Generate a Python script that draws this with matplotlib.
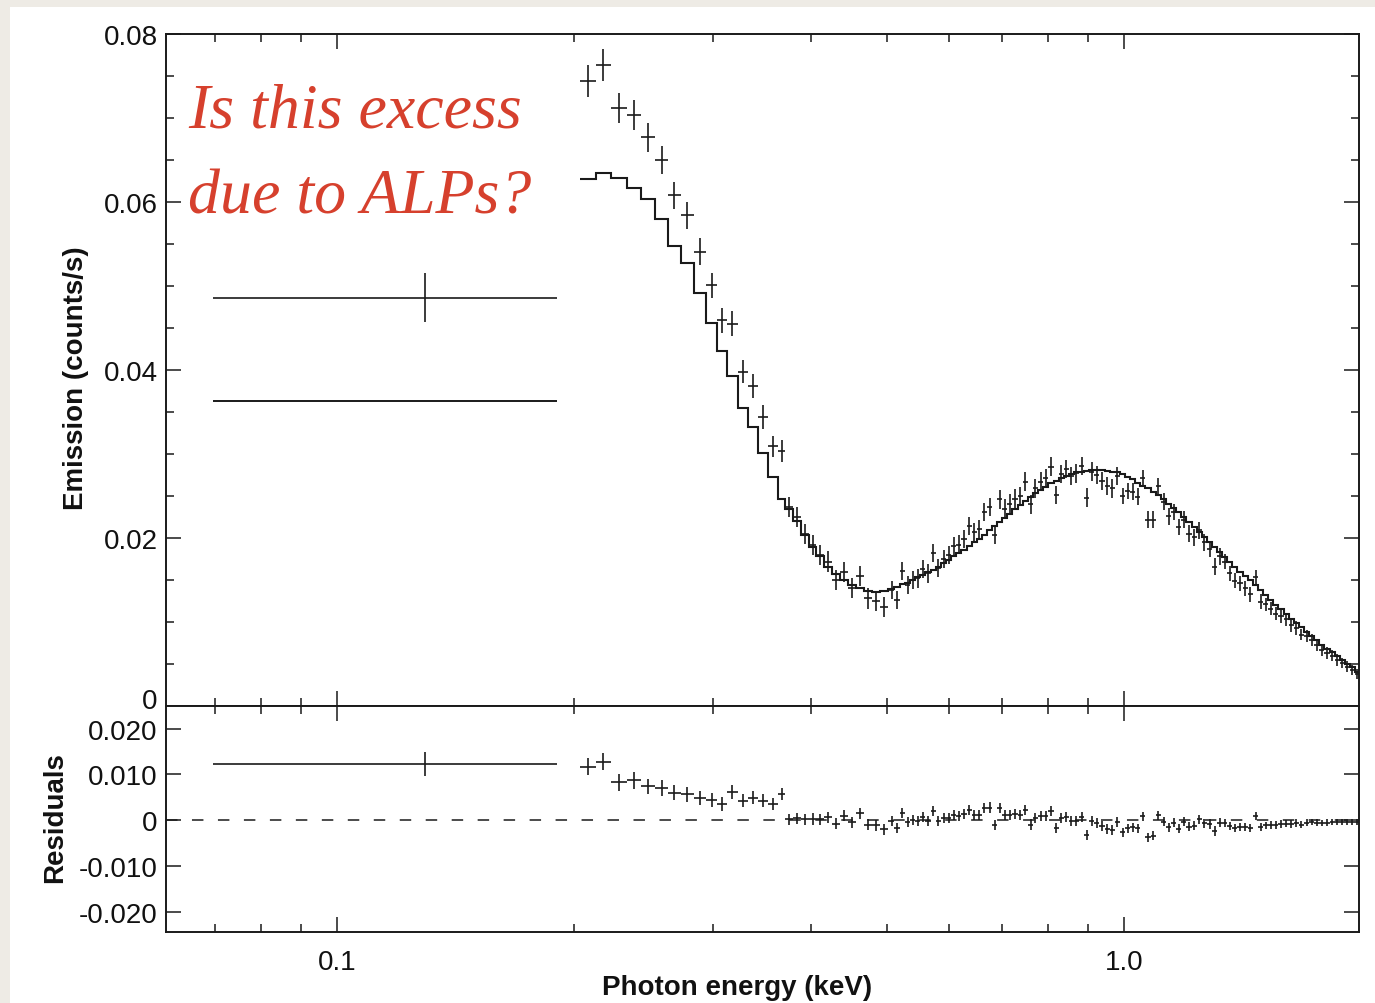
import numpy as np
import matplotlib
matplotlib.use("Agg")
import matplotlib.pyplot as plt
from matplotlib.patches import Rectangle
from matplotlib.transforms import ScaledTranslation
from matplotlib.ticker import FixedLocator, LogLocator, MultipleLocator, NullFormatter

plt.rcParams.update({"font.family": "Liberation Sans", "font.size": 20})

# ---- spectrum: low-energy wide bin (keV, counts/s) ----
wide_energy = 0.1294
wide_lo, wide_hi = 0.0696, 0.1903
wide_counts = 0.0486
wide_err = 0.0029
wide_model = 0.0363

# ---- binned spectrum above 0.2 keV ----
energy = [
    0.2084, 0.2178, 0.2282, 0.2385, 0.2485, 0.2588, 0.2680, 0.2785, 0.2893, 0.2997,
    0.3086, 0.3177, 0.3281, 0.3379, 0.3479, 0.3581, 0.3677,
    0.375, 0.384, 0.393, 0.402, 0.411, 0.421, 0.431, 0.441, 0.451, 0.462,
    0.473, 0.484, 0.495,
    0.507, 0.515, 0.523, 0.531, 0.539, 0.547, 0.555, 0.564, 0.572, 0.581,
    0.590, 0.599, 0.608, 0.617, 0.626, 0.636, 0.645, 0.655, 0.665, 0.675,
    0.685, 0.695, 0.706, 0.716, 0.727, 0.738, 0.749, 0.761, 0.772, 0.784,
    0.796, 0.808, 0.820, 0.832, 0.845, 0.857, 0.870, 0.884, 0.897, 0.910,
    0.924, 0.938, 0.952, 0.967, 0.981, 0.996, 1.011, 1.026, 1.042, 1.057,
    1.073, 1.090, 1.106, 1.123, 1.140, 1.157, 1.174, 1.192, 1.210, 1.228,
    1.247, 1.265, 1.285, 1.304, 1.324, 1.344, 1.364, 1.384, 1.405, 1.426,
    1.448, 1.470, 1.492, 1.514, 1.537, 1.560, 1.584, 1.608, 1.632, 1.656,
    1.681, 1.707, 1.732, 1.758, 1.785, 1.812, 1.839, 1.867, 1.895, 1.923,
    1.952, 1.981,
]
counts = [
    0.0744, 0.0763, 0.0712, 0.0704, 0.0677, 0.0650, 0.0608, 0.0584, 0.0541, 0.0501,
    0.0459, 0.0455, 0.0398, 0.0381, 0.0344, 0.0309, 0.0304,
    0.0237, 0.0225, 0.0205, 0.0192, 0.0180, 0.0172, 0.0150, 0.0160, 0.0140, 0.0155,
    0.0128, 0.0125, 0.0118,
    0.0138, 0.0126, 0.0161, 0.0144, 0.0150, 0.0152, 0.0163, 0.0158, 0.0182, 0.0164,
    0.0175, 0.0180, 0.0190, 0.0192, 0.0199, 0.0214, 0.0207, 0.0211, 0.0231, 0.0237,
    0.0204, 0.0246, 0.0235, 0.0241, 0.0247, 0.0250, 0.0267, 0.0240, 0.0259, 0.0267,
    0.0271, 0.0285, 0.0251, 0.0276, 0.0282, 0.0274, 0.0277, 0.0286, 0.0248, 0.0279,
    0.0275, 0.0268, 0.0262, 0.0259, 0.0274, 0.0250, 0.0256, 0.0255, 0.0249, 0.0271,
    0.0222, 0.0222, 0.0262, 0.0243, 0.0226, 0.0231, 0.0213, 0.0222, 0.0205, 0.0201,
    0.0209, 0.0195, 0.0187, 0.0166, 0.0178, 0.0172, 0.0158, 0.0149, 0.0146, 0.0140,
    0.0133, 0.0153, 0.0124, 0.0121, 0.0116, 0.0110, 0.0107, 0.0103, 0.0096, 0.0093,
    0.0085, 0.0083, 0.0079, 0.0073, 0.0067, 0.0063, 0.0060, 0.0055, 0.0051, 0.0047,
    0.0043, 0.0038,
]
counts_err = [
    0.0019, 0.0019, 0.0018, 0.0018, 0.0017, 0.0017, 0.0016, 0.0016, 0.0016, 0.0015,
    0.0015, 0.0015, 0.0014, 0.0014, 0.0014, 0.0013, 0.0013,
    0.0012, 0.0012, 0.0012, 0.0012, 0.0012, 0.0012, 0.0012, 0.0012, 0.0012, 0.0012,
    0.0012, 0.0012, 0.0012,
    0.0011, 0.0011, 0.0011, 0.0011, 0.0011, 0.0011, 0.0011, 0.0011, 0.0011, 0.0011,
    0.0011, 0.0011, 0.0011, 0.0011, 0.0011, 0.0011, 0.0011, 0.0011, 0.0011, 0.0011,
    0.0011, 0.0011, 0.0011, 0.0011, 0.0011, 0.0011, 0.0011, 0.0011, 0.0011, 0.0011,
    0.0011, 0.0011, 0.0011, 0.0011, 0.0011, 0.0011, 0.0011, 0.0011, 0.0011, 0.0011,
    0.0011, 0.0011, 0.0011, 0.0011, 0.0011, 0.0010, 0.0010, 0.0010, 0.0010, 0.0010,
    0.0010, 0.0010, 0.0010, 0.0010, 0.0010, 0.0010, 0.0010, 0.0010, 0.0010, 0.0010,
    0.0010, 0.0010, 0.0010, 0.0010, 0.0010, 0.0009, 0.0009, 0.0009, 0.0009, 0.0009,
    0.0009, 0.0009, 0.0009, 0.0008, 0.0008, 0.0008, 0.0008, 0.0008, 0.0008, 0.0008,
    0.0007, 0.0007, 0.0007, 0.0007, 0.0007, 0.0007, 0.0007, 0.0007, 0.0006, 0.0006,
    0.0006, 0.0006,
]
model = [
    0.0627, 0.0635, 0.0629, 0.0617, 0.0603, 0.0580, 0.0548, 0.0527, 0.0492, 0.0456,
    0.0423, 0.0393, 0.0355, 0.0332, 0.0301, 0.0273, 0.0247,
    0.0235, 0.0220, 0.0203, 0.0189, 0.0178, 0.0165, 0.0157, 0.0150, 0.0144, 0.0140,
    0.0137, 0.0136, 0.0137,
    0.0139, 0.0142, 0.0145, 0.0147, 0.0150, 0.0153, 0.0156, 0.0159, 0.0162, 0.0166,
    0.0170, 0.0174, 0.0178, 0.0182, 0.0186, 0.0191, 0.0195, 0.0199, 0.0204, 0.0209,
    0.0214, 0.0219, 0.0224, 0.0229, 0.0234, 0.0239, 0.0244, 0.0249, 0.0253, 0.0257,
    0.0261, 0.0265, 0.0268, 0.0271, 0.0274, 0.0276, 0.0278, 0.0279, 0.0280, 0.0281,
    0.0281, 0.0281, 0.0280, 0.0279, 0.0278, 0.0276, 0.0273, 0.0270, 0.0266, 0.0262,
    0.0259, 0.0255, 0.0251, 0.0246, 0.0241, 0.0236, 0.0231, 0.0225, 0.0219, 0.0213,
    0.0207, 0.0201, 0.0195, 0.0189, 0.0183, 0.0177, 0.0171, 0.0166, 0.0160, 0.0155,
    0.0150, 0.0144, 0.0138, 0.0132, 0.0126, 0.0120, 0.0115, 0.0110, 0.0104, 0.0099,
    0.0094, 0.0088, 0.0083, 0.0078, 0.0073, 0.0068, 0.0064, 0.0059, 0.0055, 0.0050,
    0.0046, 0.0041,
]

E = np.array(energy)
y = np.array(counts)
yerr = np.array(counts_err)
m = np.array(model)
resid = y - m

# bin edges halfway (in log) between neighbouring channels
mid = np.sqrt(E[1:] * E[:-1])
edges = np.concatenate([[E[0] ** 2 / mid[0]], mid, [E[-1] ** 2 / mid[-1]]])
xerr = np.vstack([E - edges[:-1], edges[1:] - E])
wide_xerr = [[wide_energy - wide_lo], [wide_hi - wide_energy]]

INK = "#1a1a1a"
W, H = 1375, 1004
fig = plt.figure(figsize=(W / 100, H / 100), dpi=100)
fig.patch.set_facecolor("#eeebe5")
fig.add_artist(Rectangle((10 / W, 0), 1, 1 - 8 / H, transform=fig.transFigure,
                         facecolor="white", edgecolor="none", zorder=-5))

x0, x1 = 166, 1359
ax1 = fig.add_axes([x0 / W, 1 - 707 / H, (x1 - x0) / W, (707 - 35) / H])
ax2 = fig.add_axes([x0 / W, 1 - 933 / H, (x1 - x0) / W, (933 - 707) / H], sharex=ax1)

# upper panel: data crosses + folded model
eb = dict(fmt="none", ecolor=INK, elinewidth=1.2, capsize=0)
ax1.errorbar(E, y, xerr=xerr, yerr=yerr, **eb)
ax1.errorbar([wide_energy], [wide_counts], xerr=wide_xerr, yerr=[wide_err], **eb)
ax1.stairs(m, edges, baseline=None, color=INK, lw=1.5)
ax1.hlines(wide_model, wide_lo, wide_hi, color=INK, lw=1.4)

# lower panel: residuals
ax2.axhline(0, color=INK, lw=1.1, linestyle=(0, (7.5, 9.5)), zorder=1)
ax2.errorbar(E, resid, xerr=xerr, yerr=yerr, **eb)
ax2.errorbar([wide_energy], [wide_counts - wide_model], xerr=wide_xerr, yerr=[0.0026], **eb)

ax1.set_xscale("log")
ax1.set_xlim(0.0606, 1.99)
ax1.set_ylim(0, 0.08)
ax2.set_ylim(-0.0243, 0.0249)

for ax in (ax1, ax2):
    ax.xaxis.set_major_locator(FixedLocator([0.1, 1.0]))
    ax.xaxis.set_minor_locator(LogLocator(base=10, subs=np.arange(2, 10)))
    ax.xaxis.set_minor_formatter(NullFormatter())
    ax.tick_params(which="both", direction="in", top=True, right=True, width=1.1,
                   colors=INK, labelcolor="#111111")
    ax.tick_params(which="major", length=11)
    ax.tick_params(which="minor", length=6)
    ax.tick_params(axis="y", pad=6)
    for s in ax.spines.values():
        s.set_linewidth(1.4)
        s.set_color(INK)

ax1.set_yticks([0, 0.02, 0.04, 0.06, 0.08])
ax1.set_yticklabels(["0", "0.02", "0.04", "0.06", "0.08"])
ax1.yaxis.set_minor_locator(MultipleLocator(0.005))
ax1.tick_params(labelbottom=False)
# lift the "0" of the upper panel clear of the residual labels
zero_lbl = ax1.get_yticklabels()[0]
zero_lbl.set_transform(zero_lbl.get_transform() + ScaledTranslation(0, 6 / 72, fig.dpi_scale_trans))

ax2.set_yticks([-0.02, -0.01, 0, 0.01, 0.02])
ax2.set_yticklabels(["-0.020", "-0.010", "0", "0.010", "0.020"])
ax2.yaxis.set_minor_locator(FixedLocator([]))
ax2.set_xticklabels(["0.1", "1.0"])
ax2.tick_params(axis="x", pad=12)

fig.text(76 / W, 1 - 378 / H, "Emission (counts/s)", rotation=90, ha="center", va="center",
         fontsize=20, fontweight="bold", color="#111111")
fig.text(55 / W, 1 - 818 / H, "Residuals", rotation=90, ha="center", va="center",
         fontsize=20, fontweight="bold", color="#111111")
fig.text(737 / W, 1 - 988 / H, "Photon energy (keV)", ha="center", va="center",
         fontsize=20, fontweight="bold", color="#111111")

red = "#d6402d"
fig.text(188 / W, 1 - 128 / H, "Is this excess", ha="left", va="baseline",
         fontsize=46, style="italic", family="Liberation Serif", color=red)
fig.text(188 / W, 1 - 213 / H, "due to ALPs?", ha="left", va="baseline",
         fontsize=46, style="italic", family="Liberation Serif", color=red)

fig.savefig("out.png", dpi=100)
